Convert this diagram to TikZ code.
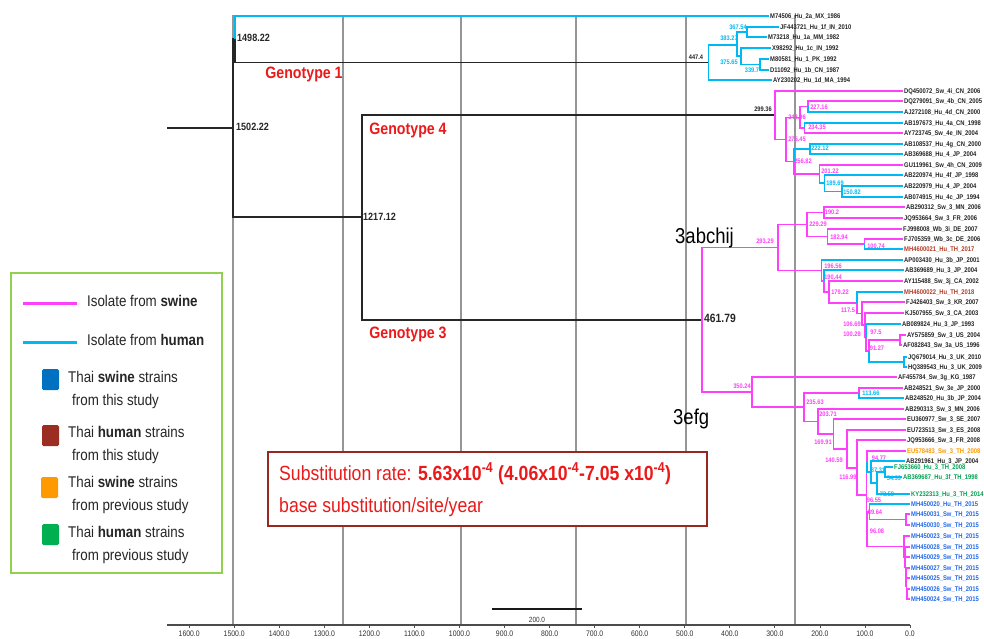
\documentclass[tikz,border=0pt]{standalone}
\usepackage{fontspec}
\setmainfont{Liberation Sans}[FakeStretch=0.86]
\definecolor{swc}{RGB}{255,64,250}
\definecolor{huc}{RGB}{0,185,242}
\definecolor{thsw}{RGB}{35,105,235}
\definecolor{thhu}{RGB}{180,60,38}
\definecolor{prsw}{RGB}{255,153,0}
\definecolor{prhu}{RGB}{0,160,80}
\definecolor{gridc}{RGB}{150,150,150}
\definecolor{legc}{RGB}{146,208,80}
\definecolor{boxc}{RGB}{150,40,30}
\definecolor{redt}{RGB}{235,25,25}
\definecolor{sqblue}{RGB}{0,112,192}
\definecolor{sqbrown}{RGB}{155,45,35}
\definecolor{sqorange}{RGB}{255,153,0}
\definecolor{sqgreen}{RGB}{0,176,80}
\begin{document}
\begin{tikzpicture}[x=1pt,y=-1pt,
  sw/.style={draw=swc,line width=1.7pt},
  hu/.style={draw=huc,line width=1.7pt},
  bk/.style={draw=black!85,line width=1.7pt},
  gridl/.style={draw=gridc,line width=1.1pt},
  tiplab/.style={anchor=west,inner xsep=1pt,inner ysep=0pt,text height=5pt,text depth=0pt,font=\fontsize{6.8}{8}\selectfont\bfseries,text=black!85},
  nlab/.style={inner sep=0pt,text height=4.75pt,text depth=0pt,font=\fontsize{6.6}{7}\selectfont\bfseries},
  nlp/.style={nlab,text=swc},
  nlb/.style={nlab,text=huc},
  nlk/.style={nlab,text=black!85},
  biglab/.style={anchor=west,inner sep=0pt,text height=7.5pt,text depth=0pt,font=\fontsize{10.5}{12}\selectfont\bfseries,text=black!85},
  geno/.style={inner sep=0pt,text height=11.9pt,text depth=0pt,font=\fontsize{16.5}{18}\selectfont\bfseries,text=redt},
  clade/.style={inner sep=0pt,text height=15.5pt,text depth=0pt,font=\fontsize{21.5}{24}\selectfont,text=black},
  leg/.style={anchor=west,inner sep=0pt,text height=11.2pt,text depth=0pt,font=\fontsize{15.5}{18}\selectfont,text=black!85},
  axlab/.style={anchor=north,inner sep=0pt,text height=5.8pt,text depth=0pt,font=\fontsize{8}{10}\selectfont,text=black!80},
  boxt/.style={anchor=west,inner sep=0pt,text height=14.8pt,text depth=0pt,font=\fontsize{20.5}{24}\selectfont,text=redt},
  sq/.style={minimum width=17pt,minimum height=21pt,inner sep=0pt,rounded corners=1.5pt}
]
\useasboundingbox (0,0) rectangle (984,639);
\fill[white] (0,0) rectangle (984,639);

% grid lines
\foreach \gx in {233,343,461,576,686,795} \draw[gridl] (\gx,15) -- (\gx,625);

% axis
\coordinate (ax0) at (167,625);
\coordinate (ax1) at (910,625);
\draw[draw=black!70,line width=1.5pt] (ax0) -- (ax1);
\foreach \t [count=\i] in {0,100,...,1600} {
  \draw[draw=black!70,line width=0.8pt] ({910-0.4505*\t},625) -- ++(0,3);
  \node[axlab] (ax\i) at ({910-0.4505*\t},630.5) {\t.0};
}
% scale bar
\coordinate (sb0) at (492,609);
\coordinate (sb1) at (582,609);
\draw[draw=black!90,line width=2.2pt] (sb0) -- (sb1);
\node[axlab,font=\fontsize{7.5}{9}\selectfont] (sblab) at (537,616) {200.0};

% ---------- tips ----------
\node[tiplab] (t1) at (769,16) {M74506\_Hu\_2a\_MX\_1986};
\node[tiplab] (t2) at (779,27) {JF443721\_Hu\_1f\_IN\_2010};
\node[tiplab] (t3) at (767,37) {M73218\_Hu\_1a\_MM\_1982};
\node[tiplab] (t4) at (771,48) {X98292\_Hu\_1c\_IN\_1992};
\node[tiplab] (t5) at (769,59) {M80581\_Hu\_1\_PK\_1992};
\node[tiplab] (t6) at (769,70) {D11092\_Hu\_1b\_CN\_1987};
\node[tiplab] (t7) at (772,80) {AY230202\_Hu\_1d\_MA\_1994};

\node[tiplab] (a1) at (903,91) {DQ450072\_Sw\_4i\_CN\_2006};
\node[tiplab] (a2) at (903,101) {DQ279091\_Sw\_4b\_CN\_2005};
\node[tiplab] (a3) at (903,112) {AJ272108\_Hu\_4d\_CN\_2000};
\node[tiplab] (a4) at (903,123) {AB197673\_Hu\_4a\_CN\_1998};
\node[tiplab] (a5) at (903,133) {AY723745\_Sw\_4e\_IN\_2004};
\node[tiplab] (a6) at (903,144) {AB108537\_Hu\_4g\_CN\_2000};
\node[tiplab] (a7) at (903,154) {AB369688\_Hu\_4\_JP\_2004};
\node[tiplab] (a8) at (903,165) {GU119961\_Sw\_4h\_CN\_2009};
\node[tiplab] (a9) at (903,175) {AB220974\_Hu\_4f\_JP\_1998};
\node[tiplab] (a10) at (903,186) {AB220979\_Hu\_4\_JP\_2004};
\node[tiplab] (a11) at (903,197) {AB074915\_Hu\_4c\_JP\_1994};

\node[tiplab] (b1) at (905,207) {AB290312\_Sw\_3\_MN\_2006};
\node[tiplab] (b2) at (903,218) {JQ953664\_Sw\_3\_FR\_2006};
\node[tiplab] (b3) at (902,229) {FJ998008\_Wb\_3i\_DE\_2007};
\node[tiplab] (b4) at (903,239) {FJ705359\_Wb\_3c\_DE\_2006};
\node[tiplab,text=thhu] (b5) at (903,249) {MH4600021\_Hu\_TH\_2017};
\node[tiplab] (b6) at (903,260) {AP003430\_Hu\_3b\_JP\_2001};
\node[tiplab] (b7) at (904,270) {AB369689\_Hu\_3\_JP\_2004};
\node[tiplab] (b8) at (903,281) {AY115488\_Sw\_3j\_CA\_2002};
\node[tiplab,text=thhu] (b9) at (903,292) {MH4600022\_Hu\_TH\_2018};
\node[tiplab] (b10) at (905,302) {FJ426403\_Sw\_3\_KR\_2007};
\node[tiplab] (b11) at (904,313) {KJ507955\_Sw\_3\_CA\_2003};
\node[tiplab] (b12) at (901,324) {AB089824\_Hu\_3\_JP\_1993};
\node[tiplab] (b13) at (906,335) {AY575859\_Sw\_3\_US\_2004};
\node[tiplab] (b14) at (902,345) {AF082843\_Sw\_3a\_US\_1996};
\node[tiplab] (b15) at (907,357) {JQ679014\_Hu\_3\_UK\_2010};
\node[tiplab] (b16) at (907,367) {HQ389543\_Hu\_3\_UK\_2009};
\node[tiplab] (b17) at (897,377) {AF455784\_Sw\_3g\_KG\_1987};
\node[tiplab] (b18) at (903,388) {AB248521\_Sw\_3e\_JP\_2000};
\node[tiplab] (b19) at (904,398) {AB248520\_Hu\_3b\_JP\_2004};
\node[tiplab] (b20) at (904,409) {AB290313\_Sw\_3\_MN\_2006};
\node[tiplab] (b21) at (906,419) {EU360977\_Sw\_3\_SE\_2007};
\node[tiplab] (b22) at (906,430) {EU723513\_Sw\_3\_ES\_2008};
\node[tiplab] (b23) at (906,440) {JQ953666\_Sw\_3\_FR\_2008};
\node[tiplab,text=prsw] (b24) at (906,451) {EU578483\_Sw\_3\_TH\_2008};
\node[tiplab] (b25) at (905,461) {AB291961\_Hu\_3\_JP\_2004};
\node[tiplab,text=prhu] (b26) at (893,467) {FJ653660\_Hu\_3\_TH\_2008};
\node[tiplab,text=prhu] (b27) at (902,477) {AB369687\_Hu\_3f\_TH\_1998};
\node[tiplab,text=prhu] (b28) at (910,494) {KY232313\_Hu\_3\_TH\_2014};
\node[tiplab,text=thsw] (b29) at (910,504) {MH450020\_Hu\_TH\_2015};
\node[tiplab,text=thsw] (b30) at (910,514) {MH450031\_Sw\_TH\_2015};
\node[tiplab,text=thsw] (b31) at (910,525) {MH450030\_Sw\_TH\_2015};
\node[tiplab,text=thsw] (b32) at (910,536) {MH450023\_Sw\_TH\_2015};
\node[tiplab,text=thsw] (b33) at (910,547) {MH450028\_Sw\_TH\_2015};
\node[tiplab,text=thsw] (b34) at (910,557) {MH450029\_Sw\_TH\_2015};
\node[tiplab,text=thsw] (b35) at (910,568) {MH450027\_Sw\_TH\_2015};
\node[tiplab,text=thsw] (b36) at (910,578) {MH450025\_Sw\_TH\_2015};
\node[tiplab,text=thsw] (b37) at (910,589) {MH450026\_Sw\_TH\_2015};
\node[tiplab,text=thsw] (b38) at (910,599) {MH450024\_Sw\_TH\_2015};

% ---------- internal nodes ----------
\coordinate (stub) at (167,128);
\coordinate (root) at (233,128);
\coordinate (G1) at (235,39);
\coordinate (G34) at (361.7,217);
\coordinate (n447) at (708.4,62.5);
\coordinate (n383) at (737.3,45);
\coordinate (n367) at (747,32);
\coordinate (n375) at (740.8,56);
\coordinate (n339) at (760,64.5);

\coordinate (n299) at (775.1,115);
\coordinate (n275) at (785.9,139.5);
\coordinate (n243) at (800.1,117.5);
\coordinate (n227) at (807.7,106.5);
\coordinate (n234) at (804.4,128);
\coordinate (n256) at (794.3,161.5);
\coordinate (n222) at (810.0,149);
\coordinate (n201) at (819.4,174);
\coordinate (n189) at (824.5,183);
\coordinate (n150) at (842.1,191.5);

\coordinate (n461) at (702,319.8);
\coordinate (n293) at (777.9,247.5);
\coordinate (n229) at (806.7,224.5);
\coordinate (n190) at (824.3,212.5);
\coordinate (n182) at (827.6,236.5);
\coordinate (n100) at (864.6,244);
\coordinate (n196) at (821.4,270.5);
\coordinate (n190b) at (824.2,281);
\coordinate (n179) at (829.3,291.9);
\coordinate (n117) at (857.1,302.8);
\coordinate (n106) at (861.9,313.6);
\coordinate (n100b) at (864.8,325.25);
\coordinate (n97) at (866.1,337.5);
\coordinate (n91) at (868.9,351);
\coordinate (na) at (900,340);
\coordinate (nb) at (904,362);

\coordinate (n350) at (752.2,392.1);
\coordinate (n235) at (803.8,407.2);
\coordinate (n113) at (858.8,393);
\coordinate (n203) at (818.2,421.5);
\coordinate (n169) at (833.5,433.9);
\coordinate (n140) at (846.7,448.8);
\coordinate (n116) at (857.3,467.7);
\coordinate (n96) at (866.5,495.3);
\coordinate (n94) at (867.3,461.5);
\coordinate (n87) at (870.7,472);
\coordinate (n73) at (876.9,483);
\coordinate (n54) at (885.2,472);
\coordinate (n96b) at (866.9,529.1);
\coordinate (n89) at (869.6,511.75);
\coordinate (n3130) at (906,519.5);
\coordinate (c1) at (904,546.5);
\coordinate (c2) at (905,557);
\coordinate (c3) at (905.5,567);
\coordinate (c4) at (906,577);
\coordinate (c5) at (906.5,586);
\coordinate (c6) at (907,594);

% ---------- branches ----------
\draw[bk] (stub) -- (root);
\foreach \s/\p/\c in {
  bk/root/G1, bk/root/G34, hu/G1/t1.west, bk/G1/n447,
  hu/n447/n383, hu/n447/t7.west, hu/n383/n367, hu/n383/n375,
  hu/n367/t2.west, hu/n367/t3.west, hu/n375/t4.west, hu/n375/n339,
  hu/n339/t5.west, hu/n339/t6.west,
  bk/G34/n299, bk/G34/n461,
  sw/n299/a1.west, sw/n299/n275, sw/n275/n243, sw/n275/n256,
  sw/n243/n227, sw/n243/n234, sw/n227/a2.west, hu/n227/a3.west,
  hu/n234/a4.west, sw/n234/a5.west, hu/n256/n222, sw/n256/n201,
  hu/n222/a6.west, hu/n222/a7.west, sw/n201/a8.west, hu/n201/n189,
  hu/n189/a9.west, hu/n189/n150, hu/n150/a10.west, hu/n150/a11.west,
  sw/n461/n293, sw/n461/n350,
  sw/n293/n229, sw/n293/n196, sw/n229/n190, sw/n229/n182,
  sw/n190/b1.west, sw/n190/b2.west, sw/n182/b3.west, sw/n182/n100,
  sw/n100/b4.west, hu/n100/b5.west,
  hu/n196/b6.west, sw/n196/n190b, hu/n190b/b7.west, sw/n190b/n179,
  sw/n179/b8.west, sw/n179/n117, hu/n117/b9.west, sw/n117/n106,
  sw/n106/b10.west, sw/n106/n100b, sw/n100b/b11.west, sw/n100b/n97,
  hu/n97/b12.west, sw/n97/n91, sw/n91/na, hu/n91/nb,
  sw/na/b13.west, sw/na/b14.west, hu/nb/b15.west, hu/nb/b16.west,
  sw/n350/b17.west, sw/n350/n235, sw/n235/n113, sw/n235/n203,
  sw/n113/b18.west, hu/n113/b19.west, sw/n203/b20.west, sw/n203/n169,
  sw/n169/b21.west, sw/n169/n140, sw/n140/b22.west, sw/n140/n116,
  sw/n116/b23.west, sw/n116/n96, sw/n96/n94, sw/n96/n96b,
  sw/n94/b24.west, hu/n94/n87, hu/n87/b25.west, hu/n87/n73,
  hu/n73/n54, hu/n73/b28.west, hu/n54/b26.west, hu/n54/b27.west,
  sw/n96b/n89, sw/n96b/c1, hu/n89/b29.west, sw/n89/n3130,
  sw/n3130/b30.west, sw/n3130/b31.west,
  sw/c1/b32.west, sw/c1/c2, sw/c2/b33.west, sw/c2/c3, sw/c3/b34.west, sw/c3/c4,
  sw/c4/b35.west, sw/c4/c5, sw/c5/b36.west, sw/c5/c6, sw/c6/b37.west, sw/c6/b38.west}
  {\draw[\s] (\p) |- (\c);}

% ---------- node labels ----------
\node[biglab] (l1502) at (236,127) {1502.22};
\node[biglab] (l1498) at (237,38) {1498.22};
\node[biglab] (l1217) at (363,217) {1217.12};
\node[biglab,text height=8.6pt,font=\fontsize{12}{14}\selectfont\bfseries] (l461) at (704,318) {461.79};
\node[nlk] (l447) at (696,57) {447.4};
\node[nlk] (l299) at (763,109) {299.36};
\foreach \txt/\xx/\yy [count=\i] in {383.27/729/38, 367.54/738/27, 375.65/729/62, 339.7/752/70,
  222.12/820/148, 189.69/835/183, 150.82/852/192, 113.66/871/393, 87.31/878/470,
  54.99/894/478, 73.58/887/494}
  {\node[nlb] (lb\i) at (\xx,\yy) {\txt};}
\foreach \txt/\xx/\yy [count=\i] in {227.16/819/107, 243.96/797/117, 234.35/817/127, 275.45/797/139,
  256.82/803/161, 201.22/830/171, 293.29/765/241, 229.29/818/224, 190.2/832/212,
  182.94/839/237, 100.74/876/246, 196.56/833/266, 190.44/833/277, 179.22/840/292,
  117.5/848/310, 106.69/852/324, 100.28/852/334, 97.5/876/332, 91.27/877/348,
  350.24/742/386, 235.63/815/402, 203.71/828/414, 169.91/823/442, 140.59/834/460,
  116.99/848/477, 94.77/879/458, 96.55/874/500, 89.64/875/512, 96.08/877/531}
  {\node[nlp] (lp\i) at (\xx,\yy) {\txt};}

% ---------- genotype / clade labels ----------
\node[geno] (g1) at (304,73) {Genotype 1};
\node[geno] (g4) at (408,129) {Genotype 4};
\node[geno] (g3) at (408,333) {Genotype 3};
\node[clade,anchor=east] (c3a) at (734,236) {3abchij};
\node[clade,anchor=west] (c3e) at (673,417) {3efg};

% ---------- substitution rate box ----------
\node[draw=boxc,fill=white,line width=2.2pt,minimum width=439pt,minimum height=74pt,inner sep=0pt] (srbox) at (487.5,489) {};
\node[boxt] (sr1) at (279,473) {Substitution rate: \textbf{5.63x10\textsuperscript{-4} (4.06x10\textsuperscript{-4}-7.05 x10\textsuperscript{-4})}};
\node[boxt] (sr2) at (279,505) {base substitution/site/year};

% ---------- legend ----------
\node[draw=legc,line width=2.2pt,minimum width=211pt,minimum height=300pt,inner sep=0pt] (legbox) at (116.5,423) {};
\coordinate (ls1) at (23,303); \coordinate (ls2) at (77,303);
\coordinate (lh1) at (23,342); \coordinate (lh2) at (77,342);
\draw[draw=swc,line width=3pt] (ls1) -- (ls2);
\draw[draw=huc,line width=3pt] (lh1) -- (lh2);
\node[leg] (lt1) at (87,301) {Isolate from \textbf{swine}};
\node[leg] (lt2) at (87,340) {Isolate from \textbf{human}};
\node[sq,fill=sqblue] (sq1) at (50.5,379.5) {};
\node[sq,fill=sqbrown] (sq2) at (50.5,435.5) {};
\node[sq,fill=sqorange] (sq3) at (49.5,487.5) {};
\node[sq,fill=sqgreen] (sq4) at (50.5,534.5) {};
\node[leg] (lt3) at (68,377) {Thai \textbf{swine} strains};
\node[leg] (lt3b) at (72,400) {from this study};
\node[leg] (lt4) at (68,432) {Thai \textbf{human} strains};
\node[leg] (lt4b) at (72,455) {from this study};
\node[leg] (lt5) at (68,482) {Thai \textbf{swine} strains};
\node[leg] (lt5b) at (72,505) {from previous study};
\node[leg] (lt6) at (68,532) {Thai \textbf{human} strains};
\node[leg] (lt6b) at (72,555) {from previous study};
\end{tikzpicture}
\end{document}
